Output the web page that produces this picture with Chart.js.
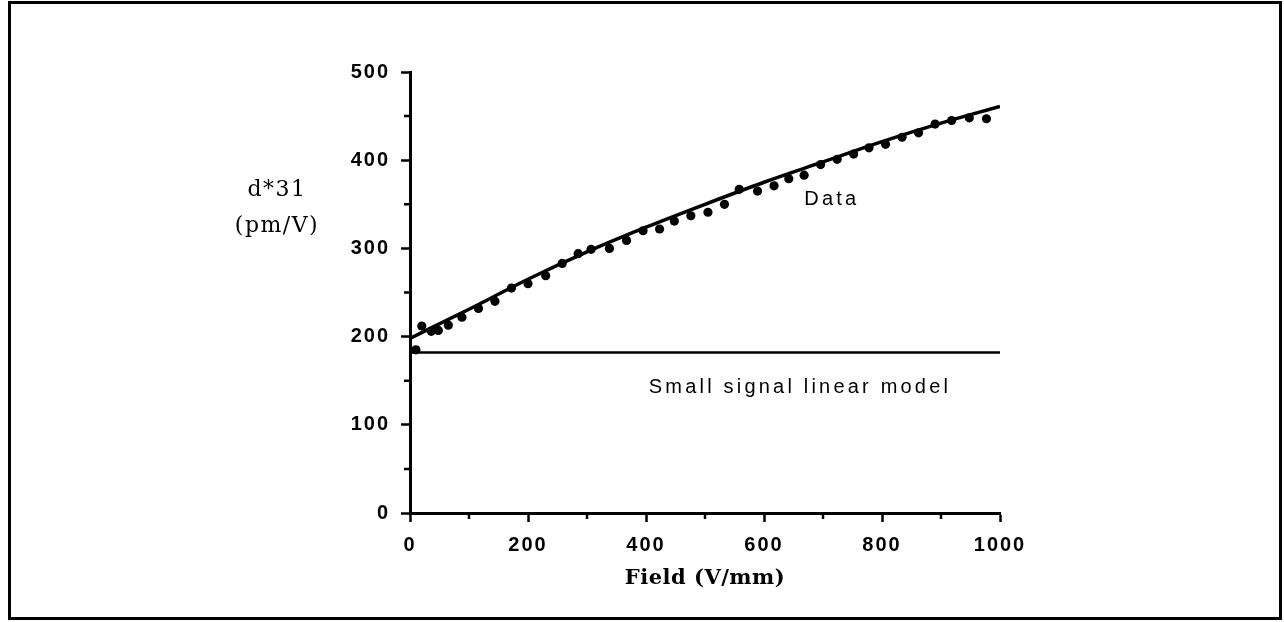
<!DOCTYPE html>
<html>
<head>
<meta charset="utf-8">
<script src="https://cdn.jsdelivr.net/npm/chart.js@4.4.1/dist/chart.umd.min.js"></script>
<style>
  html, body { margin: 0; padding: 0; background: #fff; }
  #wrap { width: 1284px; height: 622px; position: relative; }
</style>
</head>
<body>
<div id="wrap"><canvas id="c" width="1284" height="622"></canvas></div>
<script>
// ---- data ----
const fieldData = [10, 20, 36, 48, 65, 88, 116, 144, 172, 200, 230, 258, 285, 307, 338, 367, 395, 423, 448, 476, 505, 533, 558, 589, 617, 642, 668, 696, 724, 752, 778, 806, 834, 862, 890, 918, 948, 977];
const d31Data   = [185, 212, 206, 207, 213, 222, 232, 240, 255, 260, 269, 283, 294, 299, 300, 309, 320, 322, 331, 337, 341, 350, 367, 365, 371, 379, 383, 395, 401, 407, 414, 418, 426, 431, 441, 445, 448, 447];

const fitField = [0, 100, 200, 300, 400, 500, 600, 700, 800, 900, 1000];
const fitD31   = [198, 231, 265, 296, 324, 350, 375, 398, 421, 442, 461];

const modelField = [0, 1000];
const modelD31   = [182, 182];

const xTicks = [0, 200, 400, 600, 800, 1000];
const yTicks = [0, 100, 200, 300, 400, 500];

const xTitle = 'Field (V/mm)';
const yTitleLines = ['d*31', '(pm/V)'];
const annotations = [
  { text: 'Data', x: 715, y: 355 },
  { text: 'Small signal linear model', x: 661, y: 142 }
];

const toPts = (xs, ys) => xs.map((x, i) => ({ x: x, y: ys[i] }));

const decor = {
  id: 'decor',
  beforeDraw(chart) {
    chart.ctx.letterSpacing = '2px';
  },
  afterDraw(chart) {
    const ctx = chart.ctx;
    const xs = chart.scales.x, ys = chart.scales.y;
    ctx.save();
    ctx.letterSpacing = '0px';
    // outer frame
    ctx.strokeStyle = '#000';
    ctx.lineWidth = 3;
    ctx.strokeRect(9.5, 2.5, 1271, 616);
    // minor ticks
    ctx.lineWidth = 2.5;
    ctx.beginPath();
    for (let v = 100; v < 1000; v += 200) {
      const px = xs.getPixelForValue(v);
      ctx.moveTo(px, xs.top); ctx.lineTo(px, xs.top + 6);
    }
    for (let v = 50; v < 500; v += 100) {
      const py = ys.getPixelForValue(v);
      ctx.moveTo(ys.right, py); ctx.lineTo(ys.right - 6, py);
    }
    ctx.stroke();
    // annotations
    ctx.fillStyle = '#000';
    ctx.textAlign = 'center';
    ctx.textBaseline = 'middle';
    ctx.font = '20px "Liberation Sans", Arial, sans-serif';
    ctx.letterSpacing = '3.2px';
    annotations.forEach(a => {
      ctx.fillText(a.text, xs.getPixelForValue(a.x), ys.getPixelForValue(a.y));
    });
    // axis titles
    ctx.font = 'bold 21px "DejaVu Serif", serif';
    ctx.letterSpacing = '0.5px';
    const ca = chart.chartArea;
    ctx.fillText(xTitle, (ca.left + ca.right) / 2, 579);
    ctx.font = '22px "DejaVu Serif", serif';
    ctx.letterSpacing = '1.5px';
    ctx.fillText(yTitleLines[0], 277, 190);
    ctx.fillText(yTitleLines[1], 277, 226);
    ctx.restore();
  }
};

new Chart(document.getElementById('c'), {
  type: 'scatter',
  data: {
    datasets: [
      {
        label: 'Data',
        data: toPts(fieldData, d31Data),
        backgroundColor: '#000',
        borderColor: '#000',
        pointRadius: 4.6,
        pointBorderWidth: 0,
        showLine: false
      },
      {
        label: 'Fit',
        data: toPts(fitField, fitD31),
        borderColor: '#000',
        borderWidth: 3.5,
        pointRadius: 0,
        showLine: true,
        cubicInterpolationMode: 'monotone'
      },
      {
        label: 'Small signal linear model',
        data: toPts(modelField, modelD31),
        borderColor: '#000',
        borderWidth: 2.5,
        pointRadius: 0,
        showLine: true
      }
    ]
  },
  options: {
    responsive: false,
    animation: false,
    events: [],
    layout: { padding: { top: 72, right: 284, left: 0, bottom: 0 } },
    plugins: { legend: { display: false }, tooltip: { enabled: false } },
    scales: {
      x: {
        type: 'linear',
        min: 0, max: 1000,
        afterBuildTicks(scale) { scale.ticks = xTicks.map(v => ({ value: v })); },
        afterFit(scale) { scale.height = 109; },
        border: { display: true, color: '#000', width: 3 },
        grid: { drawOnChartArea: false, drawTicks: true, tickLength: 9, tickWidth: 2.5, tickColor: '#000' },
        ticks: { color: '#000', padding: 11, callback: v => String(v), font: { family: '"Liberation Sans", Arial, sans-serif', size: 20, weight: 'bold' }, maxRotation: 0 }
      },
      y: {
        type: 'linear',
        min: 0, max: 500,
        afterBuildTicks(scale) { scale.ticks = yTicks.map(v => ({ value: v })); },
        afterFit(scale) { scale.width = 410; },
        border: { display: true, color: '#000', width: 3 },
        grid: { drawOnChartArea: false, drawTicks: true, tickLength: 9, tickWidth: 2.5, tickColor: '#000' },
        ticks: { color: '#000', padding: 11, callback: v => String(v), font: { family: '"Liberation Sans", Arial, sans-serif', size: 20, weight: 'bold' } }
      }
    }
  },
  plugins: [decor]
});
</script>
</body>
</html>
